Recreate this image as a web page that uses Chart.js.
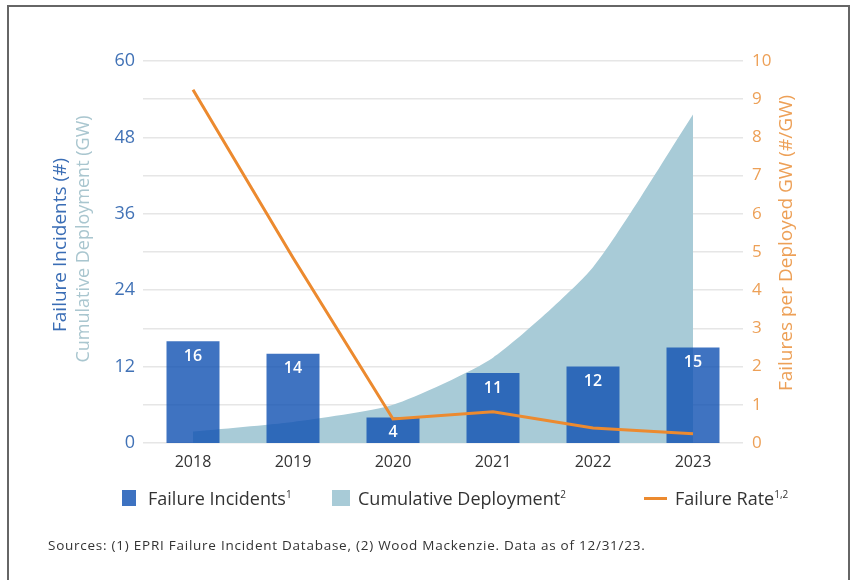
<!DOCTYPE html>
<html>
<head>
<meta charset="utf-8">
<script src="https://cdn.jsdelivr.net/npm/chart.js@4.4.1/dist/chart.umd.min.js"></script>
<style>
  html, body { margin: 0; padding: 0; background: #fff; }
  body { width: 853px; height: 580px; position: relative; overflow: hidden; font-family: "Open Sans", sans-serif; }
  #frame { position: absolute; left: 7px; top: 5px; width: 843px; height: 620px; border: 2px solid #666; box-sizing: border-box; }
  #wrap { position: absolute; left: 0; top: 0; width: 853px; height: 580px; }
  .legend-item { position: absolute; top: 486px; height: 24px; font-size: 18px; line-height: 24px; color: #333; white-space: nowrap; }
  .legend-item sup { font-size: 10px; vertical-align: 7px; line-height: 0; }
  .swatch { position: absolute; }
  #sources { position: absolute; left: 48px; top: 536px; font-size: 13.5px; letter-spacing: 0.75px; color: #333; white-space: nowrap; }
</style>
</head>
<body>
<div id="frame"></div>
<div id="wrap"><canvas id="failureChart"></canvas></div>
<div id="legend"></div>
<div id="sources">Sources: (1) EPRI Failure Incident Database, (2) Wood Mackenzie. Data as of 12/31/23.</div>
<script>
// Yearly figures
const years = ['2018', '2019', '2020', '2021', '2022', '2023'];
const incidents = [16, 14, 4, 11, 12, 15];               // count
const deploymentGW = [1.8, 3.3, 6.0, 13.4, 27.6, 51.6];   // cumulative GW
const failureRate = [9.25, 4.85, 0.63, 0.82, 0.39, 0.24]; // failures per GW

const leftTicks = [0, 12, 24, 36, 48, 60];

const BLUE = '#3d72c1';
const TEAL = '#a8cbd7';
const ORANGE = '#ec8a2f';
const FONT = '"Open Sans", sans-serif';

// white count labels inside the top of each bar
const barLabels = {
    id: 'barLabels',
    afterDatasetsDraw(chart) {
        const ctx = chart.ctx;
        const meta = chart.getDatasetMeta(0);
        ctx.save();
        ctx.fillStyle = '#fff';
        ctx.font = '600 16px ' + FONT;
        ctx.textAlign = 'center';
        ctx.textBaseline = 'middle';
        meta.data.forEach((bar, i) => {
            ctx.fillText(String(incidents[i]), bar.x, bar.y + 15);
        });
        ctx.restore();
    }
};

// rotated axis titles (left one has two lines in different colours)
const axisTitles = {
    id: 'axisTitles',
    afterDraw(chart) {
        const ctx = chart.ctx;
        const draw = (text, x, y, size, color) => {
            ctx.save();
            ctx.translate(x, y);
            ctx.rotate(-Math.PI / 2);
            ctx.fillStyle = color;
            ctx.font = size + 'px ' + FONT;
            ctx.textAlign = 'center';
            ctx.textBaseline = 'middle';
            ctx.fillText(text, 0, 0);
            ctx.restore();
        };
        draw('Failure Incidents (#)', 61, 245, 19, '#3a6db5');
        draw('Cumulative Deployment (GW)', 84, 239, 18, '#a9c6cf');
        draw('Failures per Deployed GW (#/GW)', 787, 243, 19, '#eda057');
    }
};

const ctx = document.getElementById('failureChart').getContext('2d');

const chart = new Chart(ctx, {
    type: 'bar',
    data: {
        labels: years,
        datasets: [
            {
                label: 'Failure Incidents',
                data: incidents,
                backgroundColor: 'rgba(15, 80, 177, 0.8)',
                borderWidth: 0,
                barPercentage: 0.53,
                categoryPercentage: 1,
                yAxisID: 'y',
                order: 2
            },
            {
                type: 'line',
                label: 'Cumulative Deployment',
                data: deploymentGW,
                backgroundColor: TEAL,
                borderWidth: 0,
                fill: 'origin',
                pointRadius: 0,
                tension: 0.2,
                yAxisID: 'y',
                order: 3
            },
            {
                type: 'line',
                label: 'Failure Rate',
                data: failureRate,
                borderColor: ORANGE,
                backgroundColor: ORANGE,
                borderWidth: 3,
                fill: false,
                pointRadius: 0,
                tension: 0,
                yAxisID: 'y1',
                order: 1
            }
        ]
    },
    options: {
        responsive: true,
        maintainAspectRatio: false,
        animation: false,
        layout: { padding: { top: 61, left: 36, right: 0, bottom: 100 } },
        plugins: {
            tooltip: { enabled: false },
            legend: { display: false }
        },
        scales: {
            x: {
                grid: { display: false, drawTicks: false },
                border: { display: false },
                ticks: { color: '#333', font: { family: FONT, size: 16 }, padding: 10 },
                afterFit(scale) { scale.height = 37; }
            },
            y: {
                position: 'left',
                min: 0,
                max: 60,
                afterBuildTicks(scale) { scale.ticks = leftTicks.map(v => ({ value: v })); },
                grid: { display: false, drawTicks: false },
                border: { display: false },
                ticks: { color: '#4172b6', font: { family: FONT, size: 18 }, padding: 8 },
                afterFit(scale) { scale.width = 107; }
            },
            y1: {
                position: 'right',
                min: 0,
                max: 10,
                ticks: { stepSize: 1, color: '#eda057', font: { family: FONT, size: 17 }, padding: 9 },
                grid: { color: '#e6e6e6', lineWidth: 1.5, drawTicks: false },
                border: { display: false },
                afterFit(scale) { scale.width = 110; }
            }
        }
    },
    plugins: [barLabels, axisTitles]
});

// legend row under the axis, built from the datasets
const legendSpec = [
    { sup: '1', swatch: { left: 122, top: 490, width: 14, height: 16 }, color: BLUE, textLeft: 148 },
    { sup: '2', swatch: { left: 332, top: 490, width: 18, height: 16 }, color: TEAL, textLeft: 358 },
    { sup: '1,2', swatch: { left: 644, top: 497, width: 23, height: 3 }, color: ORANGE, textLeft: 675 }
];
const legendEl = document.getElementById('legend');
chart.data.datasets.forEach((ds, i) => {
    const spec = legendSpec[i];
    const sw = document.createElement('div');
    sw.className = 'swatch';
    Object.assign(sw.style, {
        left: spec.swatch.left + 'px', top: spec.swatch.top + 'px',
        width: spec.swatch.width + 'px', height: spec.swatch.height + 'px',
        background: spec.color
    });
    legendEl.appendChild(sw);
    const item = document.createElement('div');
    item.className = 'legend-item';
    item.style.left = spec.textLeft + 'px';
    item.innerHTML = ds.label + '<sup>' + spec.sup + '</sup>';
    legendEl.appendChild(item);
});
</script>
</body>
</html>
